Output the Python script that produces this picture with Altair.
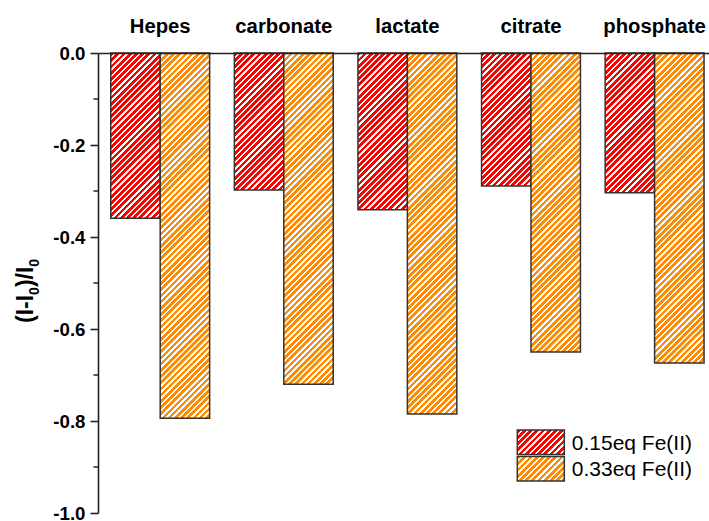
import altair as alt
import pandas as pd

# Relative fluorescence change per buffer for two Fe(II) doses
buffers = ["Hepes", "carbonate", "lactate", "citrate", "phosphate"]
doses = ["0.15eq Fe(II)", "0.33eq Fe(II)"]
change_015 = [-0.359, -0.298, -0.341, -0.289, -0.304]
change_033 = [-0.794, -0.720, -0.785, -0.650, -0.674]
y_ticks = [-1.0, -0.8, -0.6, -0.4, -0.2, 0.0]
y_minor = [-0.9, -0.7, -0.5, -0.3, -0.1]

# y-axis title pieces: (text, is_subscript)
title_parts = [("(I-I", False), ("0", True), (")/I", False), ("0", True)]

dose_colors = {doses[0]: "#FF0000", doses[1]: "#FF8C00"}

rows = []
for b, v1, v2 in zip(buffers, change_015, change_033):
    rows.append({"buffer": b, "dose": doses[0], "value": v1})
    rows.append({"buffer": b, "dose": doses[1], "value": v2})
df = pd.DataFrame(rows)

# layout
W, H = 611, 460
PAD_INNER, PAD_OUTER, ALIGN = 0.2, 0.0717, 0.72
step = W / (len(buffers) - PAD_INNER + 2 * PAD_OUTER)
bar_w = step * (1 - PAD_INNER) / len(doses)
FONT = "Liberation Sans"
INK = "#222222"

# diagonal hatching drawn as a hard-stop linear gradient
HATCH = 6.2   # stripe period along a horizontal line, px
DUTY = 0.6    # coloured share of each period


def hatch(color, w, h):
    span = w + h
    n = int(span / HATCH) + 2
    stops = []
    for i in range(n):
        a = min(i * HATCH / span, 1)
        b = min((i + DUTY) * HATCH / span, 1)
        c = min((i + 1) * HATCH / span, 1)
        stops += [
            alt.GradientStop(offset=a, color=color),
            alt.GradientStop(offset=b, color=color),
            alt.GradientStop(offset=b, color="white"),
            alt.GradientStop(offset=c, color="white"),
        ]
    k = (w + h) / (w * w + h * h)
    return alt.LinearGradient(gradient="linear", stops=stops,
                              x1=0, y1=0, x2=w * k, y2=h * k)


x_enc = alt.X(
    "buffer:N",
    sort=buffers,
    scale=alt.Scale(domain=buffers, paddingInner=PAD_INNER,
                    paddingOuter=PAD_OUTER, align=ALIGN),
    axis=alt.Axis(orient="top", title=None, labelAngle=0, ticks=False,
                  labelFont=FONT, labelFontSize=20.3, labelFontWeight="bold",
                  labelColor="black", labelPadding=16.5,
                  domainColor=INK, domainWidth=1.6, zindex=1),
)
y_enc = alt.Y(
    "value:Q",
    scale=alt.Scale(domain=[-1, 0], nice=False, zero=False),
    axis=alt.Axis(values=y_ticks,
                  labelExpr="replace(format(datum.value, '.1f'), '\u2212', '-')",
                  labelFont=FONT, labelFontSize=18.7, labelFontWeight="bold",
                  labelColor="black", labelPadding=5,
                  tickSize=8, tickWidth=1.6, tickColor=INK,
                  domainColor=INK, domainWidth=1.6, grid=False, zindex=1,
                  title=None),
)
xo_enc = alt.XOffset("dose:N", sort=doses,
                     scale=alt.Scale(domain=doses, paddingInner=0, paddingOuter=0))

base = alt.Chart(df).encode(x=x_enc, xOffset=xo_enc, y=y_enc)

layers = []
for r in rows:
    h = abs(r["value"]) * H
    layers.append(
        base.transform_filter(
            f"datum.buffer == '{r['buffer']}' && datum.dose == '{r['dose']}'"
        ).mark_bar(fill=hatch(dose_colors[r["dose"]], bar_w, h),
                   stroke="#333333", strokeWidth=1.5)
    )

# minor ticks on the value axis
minor = alt.Chart(pd.DataFrame({"value": y_minor})).mark_rule(
    color=INK, strokeWidth=1.5
).encode(
    y=y_enc,
    x=alt.value(-4.5), x2=alt.value(0),
)
layers.append(minor)

# rotated y-axis title with real subscripts, laid out piece by piece
BOLD_W = {"(": 0.333, ")": 0.333, "I": 0.278, "-": 0.333, "/": 0.278, "0": 0.556}
T_SIZE, T_SUB = 23, 14
T_BASE_X = -65          # baseline of the main text, relative to the plot's left edge
T_SUB_SHIFT = 5.5       # subscripts sit lower (to the right once rotated)
t_y = 270               # start (bottom) of the rotated title
title_df = pd.DataFrame({"part": [p for p, _ in title_parts]})
for idx, (txt, sub) in enumerate(title_parts):
    size = T_SUB if sub else T_SIZE
    layers.append(
        alt.Chart(title_df.iloc[[idx]]).mark_text(
            align="left", baseline="alphabetic", angle=270, font=FONT,
            fontWeight="bold", fontSize=size, color="black",
        ).encode(
            text="part:N",
            x=alt.value(T_BASE_X + (T_SUB_SHIFT if sub else 0)),
            y=alt.value(t_y),
        )
    )
    t_y -= sum(BOLD_W[c] for c in txt) * size

# legend
LEG_X, LEG_W = 419.3, 47
LEG_Y = [377.0, 403.5]
LEG_H = 24.5
legend_df = pd.DataFrame({"dose": doses})
for i, d in enumerate(doses):
    one = alt.Chart(legend_df).transform_filter(f"datum.dose == '{d}'")
    layers.append(
        one.mark_rect(fill=hatch(dose_colors[d], LEG_W, LEG_H),
                      stroke="#333333", strokeWidth=1.5).encode(
            x=alt.value(LEG_X), x2=alt.value(LEG_X + LEG_W),
            y=alt.value(LEG_Y[i]), y2=alt.value(LEG_Y[i] + LEG_H),
        )
    )
    layers.append(
        one.mark_text(align="left", baseline="alphabetic", font=FONT,
                      fontSize=21, color="black").encode(
            text="dose:N",
            x=alt.value(LEG_X + LEG_W + 7.5),
            y=alt.value(LEG_Y[i] + 19.5),
        )
    )

chart = alt.layer(*layers).properties(
    width=W, height=H,
    autosize=alt.AutoSizeParams(type="none"),
    padding={"left": 98, "top": 53, "right": 0, "bottom": 8},
).configure_view(stroke=None)

chart.save("out.html", embed_options={"renderer": "svg", "actions": False})
